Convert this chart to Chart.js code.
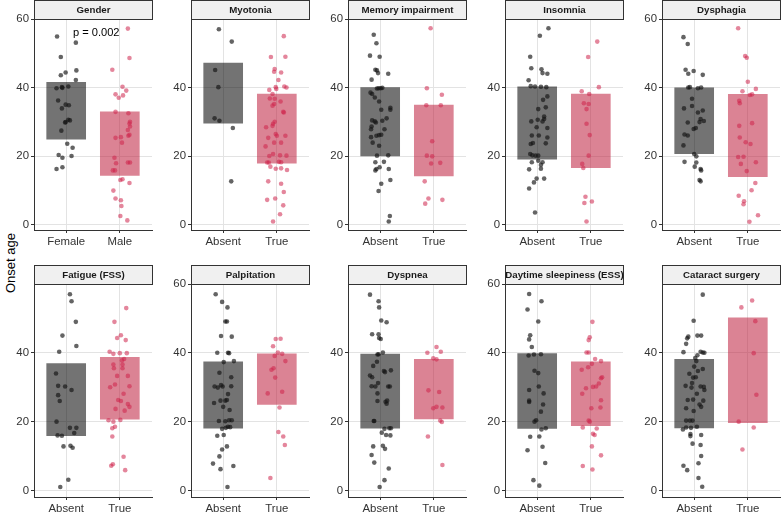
<!DOCTYPE html>
<html><head><meta charset="utf-8">
<script src="https://cdn.jsdelivr.net/npm/chart.js@4.4.0/dist/chart.umd.min.js"></script>
<style>
html,body{margin:0;padding:0;background:#fff;width:784px;height:515px;overflow:hidden;position:relative;font-family:"Liberation Sans",Arial,sans-serif}
canvas{position:absolute}
#ylab{position:absolute;left:10px;top:263px;transform:translate(-50%,-50%) rotate(-90deg);font-size:13px;white-space:nowrap;color:#000;line-height:1}
</style></head><body>
<div id="ylab">Onset age</div>
<script>
// ---------- DATA ----------
const panelTitles = ["Gender","Myotonia","Memory impairment","Insomnia","Dysphagia",
  "Fatigue (FSS)","Palpitation","Dyspnea","Daytime sleepiness (ESS)","Cataract surgery"];
const groupLabels = [["Female","Male"],["Absent","True"],["Absent","True"],["Absent","True"],["Absent","True"],
  ["Absent","True"],["Absent","True"],["Absent","True"],["Absent","True"],["Absent","True"]];
// interquartile boxes [q1, q3] per group
const boxA = [[25.0,41.6],[29.7,47.2],[20.1,40.1],[19.2,40.3],[20.8,40.0],
  [15.9,36.9],[18.1,37.4],[18.1,39.6],[18.0,39.8],[18.2,38.1]];
const boxB = [[14.4,33.0],[18.0,38.2],[14.3,35.0],[16.7,38.2],[14.1,38.1],
  [20.7,38.7],[25.0,39.7],[20.8,38.1],[18.8,37.4],[19.7,50.2]];
// y tick labels per panel
const yTickSets = [[0,20,40,60],[0,20,40],[0,20,40,60],[0,20,40],[0,20,40,60],
  [0,20,40],[0,20,40,60],[0,20,40],[0,20,40,60],[0,20,40]];
const pLabel = "p = 0.002";

// jittered points: [x offset from group centre, onset age]
const genderFemale = [[-0.17,55.0],[-0.10,49.0],[-0.10,43.7],[-0.01,44.5],[0.18,53.2],[0.19,45.1],[0.18,42.3],[-0.18,39.9],[-0.07,40.0],[-0.08,40.2],[0.04,40.4],[-0.15,36.3],[-0.08,34.0],[-0.01,35.1],[0.05,34.9],[0.04,30.7],[-0.01,30.0],[-0.02,29.9],[0.07,30.5],[-0.09,27.5],[0.02,23.7],[0.12,22.5],[-0.14,20.4],[-0.07,19.6],[0.10,20.1],[-0.18,16.3],[-0.07,16.8]];
const genderMale = [[0.15,57.3],[0.18,48.7],[-0.14,45.3],[0.05,40.3],[0.12,39.2],[-0.08,38.1],[-0.02,37.1],[0.06,37.8],[-0.08,33.0],[0.16,32.6],[0.19,30.1],[0.18,29.6],[0.19,28.7],[0.15,27.7],[0.18,26.3],[0.16,26.0],[-0.08,25.4],[0.02,25.6],[0.04,24.0],[-0.10,19.6],[-0.07,18.0],[0.15,18.2],[0.19,18.2],[-0.13,15.9],[-0.09,15.9],[0.01,13.1],[0.05,13.3],[0.18,12.2],[-0.12,10.0],[-0.08,7.7],[0.02,7.2],[0.03,5.5],[0.01,2.6],[0.14,1.3]];
const myotoniaAbsent = [[-0.08,57.1],[0.16,53.5],[-0.15,45.2],[-0.09,40.2],[-0.16,31.1],[-0.07,30.4],[0.18,28.3],[0.15,12.7]];
const myotoniaTrue = [[0.13,55.1],[-0.11,49.0],[0.16,49.1],[-0.04,45.5],[-0.05,44.7],[0.08,44.5],[0.03,42.3],[-0.02,40.2],[-0.01,39.7],[0.14,40.4],[0.18,40.1],[-0.14,39.4],[-0.08,38.2],[-0.13,36.9],[-0.04,36.8],[-0.05,35.3],[-0.08,34.8],[0.07,36.0],[0.12,33.0],[0.13,32.8],[-0.20,28.5],[-0.04,30.1],[-0.07,29.5],[-0.08,28.9],[-0.02,26.5],[0.00,26.0],[0.16,26.0],[-0.16,25.4],[-0.05,24.0],[0.08,24.0],[-0.21,22.9],[-0.14,20.1],[-0.07,20.7],[0.06,20.3],[0.18,20.2],[-0.15,18.2],[-0.18,18.2],[0.04,18.4],[0.08,18.3],[-0.12,17.0],[-0.02,16.4],[0.08,16.5],[0.19,16.0],[-0.16,12.7],[0.08,12.0],[0.13,9.6],[-0.18,7.3],[-0.03,7.7],[0.12,5.7],[0.06,3.1],[-0.07,1.0]];
const memoryAbsent = [[-0.12,55.5],[-0.07,53.0],[-0.19,49.4],[-0.01,49.1],[-0.09,45.3],[-0.06,45.1],[-0.04,44.3],[0.15,44.1],[-0.16,42.4],[-0.06,39.8],[-0.03,39.9],[0.01,39.9],[0.04,40.0],[-0.18,38.6],[-0.15,38.2],[-0.10,37.2],[-0.02,36.0],[0.02,33.6],[0.19,34.2],[0.19,33.6],[0.12,31.1],[-0.15,30.5],[-0.10,30.2],[-0.08,29.9],[0.04,30.4],[0.08,27.9],[-0.16,28.7],[-0.17,27.9],[-0.17,25.6],[-0.07,26.0],[-0.02,26.2],[0.02,26.3],[-0.14,24.0],[-0.02,23.1],[-0.06,20.2],[0.15,20.3],[-0.09,18.3],[0.07,18.4],[-0.01,16.8],[-0.07,16.3],[-0.09,15.9],[0.16,16.3],[0.02,12.0],[0.19,13.1],[-0.03,9.9],[0.18,2.6],[0.16,1.0]];
const memoryTrue = [[-0.06,57.4],[-0.13,39.9],[0.15,38.0],[-0.14,34.9],[0.13,34.9],[-0.03,24.4],[-0.13,20.2],[-0.03,20.0],[-0.05,17.9],[0.12,18.1],[-0.17,12.7],[-0.10,7.7],[-0.16,6.2],[0.16,7.3]];
const insomniaAbsent = [[0.21,57.4],[0.05,55.2],[-0.13,49.1],[-0.11,45.7],[0.08,45.4],[0.10,44.3],[0.19,44.1],[-0.16,42.2],[-0.12,40.5],[-0.04,40.4],[0.07,40.3],[0.17,40.2],[0.19,37.5],[0.11,36.5],[0.16,34.3],[0.02,33.8],[0.13,31.6],[0.13,30.9],[0.01,30.7],[-0.11,30.2],[0.10,30.2],[-0.01,28.5],[0.19,28.3],[-0.10,26.1],[0.03,26.1],[0.19,25.5],[-0.12,23.6],[-0.08,23.9],[0.16,23.8],[-0.13,20.7],[-0.09,20.3],[-0.03,20.2],[0.02,20.2],[0.02,18.7],[0.10,18.3],[-0.10,18.3],[0.07,17.5],[0.07,16.4],[-0.15,16.2],[0.13,13.5],[-0.01,13.5],[-0.06,12.4],[-0.15,10.6],[-0.04,3.6]];
const insomniaTrue = [[0.12,53.5],[-0.05,49.0],[0.15,40.2],[-0.17,39.0],[-0.03,38.2],[-0.13,35.5],[-0.04,35.3],[-0.08,33.8],[-0.08,29.5],[-0.02,26.2],[-0.04,20.2],[-0.16,17.8],[-0.14,16.6],[-0.10,8.2],[-0.12,6.4],[0.02,6.8],[-0.08,1.0]];
const dysphagiaAbsent = [[-0.20,54.8],[-0.12,52.8],[-0.16,45.3],[-0.11,44.1],[-0.01,44.9],[0.16,43.8],[-0.11,40.1],[-0.08,40.2],[0.07,39.9],[0.13,40.1],[-0.04,36.8],[-0.19,34.0],[-0.04,34.7],[0.07,32.8],[0.16,33.4],[-0.12,29.9],[0.12,30.9],[0.10,30.0],[0.18,30.3],[-0.01,28.0],[0.03,28.3],[-0.18,26.4],[-0.12,26.1],[-0.20,23.2],[0.00,20.7],[0.04,20.0],[0.04,18.2],[-0.18,18.4],[0.01,17.0],[0.12,16.3],[0.13,15.9],[0.12,12.7],[0.10,13.1]];
const dysphagiaTrue = [[-0.18,57.4],[-0.05,49.3],[-0.02,48.8],[0.00,41.8],[-0.10,39.0],[0.15,39.7],[0.04,37.9],[0.08,38.1],[-0.16,36.2],[-0.15,35.5],[0.08,29.7],[-0.16,28.9],[-0.15,25.5],[-0.04,24.1],[0.05,23.6],[-0.18,19.8],[-0.08,19.9],[-0.13,17.8],[0.15,18.3],[-0.02,15.7],[0.14,12.2],[0.07,10.1],[-0.17,8.5],[-0.07,6.9],[-0.08,6.0],[0.19,2.8],[0.03,0.9]];
const fatigueAbsent = [[0.07,57.0],[0.10,55.0],[0.18,49.0],[-0.07,45.0],[0.19,42.0],[-0.13,40.3],[-0.19,34.0],[-0.15,30.4],[-0.02,30.2],[0.10,29.2],[-0.15,27.7],[-0.12,26.0],[-0.18,20.0],[0.07,18.2],[0.19,18.2],[0.15,16.7],[-0.16,16.0],[-0.08,15.9],[-0.05,12.8],[0.08,13.0],[0.12,12.4],[0.04,3.1],[-0.11,1.0]];
const fatigueTrue = [[0.12,53.0],[-0.10,49.0],[0.02,45.1],[-0.05,44.3],[0.11,43.7],[-0.19,40.3],[-0.12,39.7],[0.00,39.9],[0.13,39.9],[0.04,37.8],[0.08,38.2],[-0.12,36.6],[0.05,36.6],[-0.11,35.5],[0.05,35.5],[-0.05,33.3],[0.15,33.3],[-0.18,30.0],[-0.09,30.8],[0.18,30.3],[0.07,28.1],[-0.03,26.3],[0.02,26.0],[-0.08,23.7],[0.09,23.2],[0.15,25.1],[0.18,24.3],[-0.21,20.4],[-0.12,20.0],[0.01,20.5],[-0.09,18.5],[-0.14,18.1],[-0.14,15.7],[0.07,9.8],[-0.13,7.6],[-0.16,7.2],[0.10,5.9]];
const palpitationAbsent = [[-0.14,57.0],[-0.02,54.8],[0.08,53.2],[0.04,49.1],[0.07,49.1],[-0.04,44.9],[0.16,44.7],[-0.11,40.0],[0.09,40.0],[0.11,39.9],[0.01,37.3],[0.20,37.6],[-0.07,34.2],[0.15,32.9],[-0.16,30.2],[-0.10,29.9],[-0.04,30.6],[-0.01,30.2],[0.15,30.3],[0.09,28.0],[-0.05,26.1],[0.04,26.1],[0.07,26.3],[-0.17,25.4],[0.00,24.3],[0.12,23.4],[-0.08,20.2],[0.04,20.1],[0.11,20.4],[0.16,20.4],[-0.02,17.9],[0.05,18.2],[0.13,18.4],[0.09,18.5],[-0.11,15.9],[0.01,16.1],[0.07,12.8],[-0.02,11.9],[-0.07,9.9],[-0.19,7.8],[0.19,7.1],[-0.05,6.2],[0.08,1.0]];
const palpitationTrue = [[-0.02,44.0],[0.07,44.1],[-0.07,41.9],[-0.04,39.1],[0.02,40.1],[0.10,39.7],[0.16,37.6],[-0.10,35.1],[-0.06,35.5],[-0.03,32.8],[0.10,28.7],[-0.17,28.2],[0.05,24.1],[0.03,17.0],[0.12,15.7],[0.15,13.2],[-0.12,3.6]];
const dyspneaAbsent = [[-0.19,56.9],[-0.03,55.0],[-0.02,53.2],[0.02,49.4],[0.12,48.9],[-0.15,45.4],[-0.03,45.4],[-0.02,44.3],[0.01,44.0],[-0.03,39.6],[-0.05,39.5],[0.05,40.1],[-0.06,37.4],[-0.13,36.2],[0.07,34.7],[0.09,34.4],[0.20,34.9],[-0.19,33.4],[-0.15,32.9],[-0.04,31.2],[-0.16,30.3],[-0.09,30.2],[0.15,30.2],[0.18,30.2],[-0.05,28.2],[-0.05,26.0],[0.10,25.8],[0.13,26.1],[0.12,25.2],[-0.12,20.2],[-0.11,20.2],[0.08,17.9],[0.17,18.1],[0.20,18.1],[0.03,16.8],[0.11,16.1],[0.19,16.0],[-0.13,12.8],[0.05,13.0],[0.09,12.1],[-0.16,10.3],[-0.11,8.1],[0.16,6.4],[0.08,3.0],[-0.01,1.0]];
const dyspneaTrue = [[0.05,41.7],[-0.12,40.0],[0.13,40.3],[-0.01,38.4],[0.05,38.1],[-0.10,29.1],[0.10,28.6],[-0.01,23.9],[0.05,24.3],[0.16,24.1],[0.12,20.3],[0.15,19.9],[-0.11,15.7],[0.16,7.4]];
const daytimeAbsent = [[-0.15,57.1],[0.08,55.0],[-0.18,52.6],[0.02,49.1],[-0.13,45.1],[-0.15,43.9],[-0.10,41.7],[-0.16,39.2],[-0.06,39.5],[0.07,39.6],[-0.05,34.8],[0.02,34.1],[0.03,30.2],[-0.15,29.2],[0.12,28.2],[-0.15,26.1],[-0.15,25.7],[0.11,25.0],[0.07,22.9],[-0.05,20.0],[-0.02,20.4],[0.16,18.1],[0.08,17.7],[-0.13,15.6],[0.04,15.7],[0.10,12.7],[-0.18,11.7],[0.15,8.0],[-0.07,3.0],[0.04,1.4]];
const daytimeTrue = [[0.03,49.0],[-0.02,44.5],[-0.04,43.7],[-0.08,40.1],[-0.04,40.1],[0.08,38.2],[0.19,37.6],[-0.05,35.8],[-0.17,35.1],[0.02,36.8],[-0.09,29.7],[0.04,30.1],[0.10,30.2],[0.15,31.1],[0.19,32.6],[0.21,32.9],[-0.16,28.1],[0.19,26.2],[0.01,23.9],[0.18,24.1],[-0.04,20.3],[-0.02,20.0],[-0.15,18.3],[0.11,18.0],[0.04,16.5],[0.07,16.1],[0.02,12.8],[0.19,10.2],[-0.15,7.1],[0.03,6.1]];
const cataractAbsent = [[0.16,56.9],[-0.01,49.3],[-0.11,44.7],[-0.13,44.2],[-0.15,42.6],[0.06,45.0],[0.13,45.0],[-0.20,40.2],[0.12,40.3],[0.16,40.1],[0.19,40.0],[0.06,39.3],[0.02,38.5],[0.04,37.6],[0.00,36.0],[-0.09,33.9],[0.07,34.7],[0.16,35.3],[-0.02,32.8],[0.03,32.9],[-0.04,31.2],[-0.16,30.4],[-0.05,29.9],[0.12,30.2],[0.18,30.1],[0.19,29.2],[0.05,28.1],[-0.12,26.3],[-0.02,26.4],[0.17,26.1],[0.10,25.0],[0.13,24.3],[-0.15,23.9],[-0.01,23.1],[-0.15,20.3],[-0.08,20.3],[-0.03,20.3],[0.05,18.5],[-0.15,18.3],[-0.06,18.2],[-0.21,17.7],[-0.07,16.4],[-0.07,15.8],[0.13,16.1],[-0.03,13.6],[0.12,13.2],[0.13,10.0],[0.08,7.9],[-0.20,7.2],[-0.13,5.9],[0.08,3.6],[0.15,1.1]];
const cataractTrue = [[0.08,55.2],[-0.12,53.2],[0.14,49.2],[0.11,39.9],[0.16,27.8],[-0.17,20.0],[0.11,18.3],[-0.10,11.9]];

const pointsA = [genderFemale,myotoniaAbsent,memoryAbsent,insomniaAbsent,dysphagiaAbsent,fatigueAbsent,palpitationAbsent,dyspneaAbsent,daytimeAbsent,cataractAbsent];
const pointsB = [genderMale,myotoniaTrue,memoryTrue,insomniaTrue,dysphagiaTrue,fatigueTrue,palpitationTrue,dyspneaTrue,daytimeTrue,cataractTrue];

// ---------- STYLE ----------
const FONT = '"Liberation Sans", Arial, Helvetica, sans-serif';
const boxGrey = 'rgba(0,0,0,0.55)';
const boxPink = 'rgba(190,30,60,0.55)';
const ptGrey = 'rgba(20,20,20,0.66)';
const ptPink = 'rgba(205,35,75,0.55)';
const gridC = '#e3e3e3';
const STRIP_H = 19;

const stripPlugin = {
  id: 'strip',
  afterDraw(chart, args, opts) {
    const {ctx, chartArea: a} = chart;
    const top = a.top - STRIP_H;
    ctx.save();
    ctx.fillStyle = '#f0f0f0';
    ctx.fillRect(a.left, top, a.right - a.left + 1, STRIP_H);
    ctx.strokeStyle = '#333';
    ctx.lineWidth = 1;
    ctx.strokeRect(a.left + 0.5, top + 0.5, a.right - a.left, STRIP_H);
    ctx.fillStyle = '#1a1a1a';
    ctx.font = 'bold 9.7px ' + FONT;
    ctx.textAlign = 'center';
    ctx.textBaseline = 'middle';
    ctx.fillText(opts.title, (a.left + a.right) / 2 + 0.5, top + STRIP_H / 2 + 0.5);
    if (opts.p) {
      const xs = chart.scales.x, ys = chart.scales.y;
      ctx.fillStyle = '#000';
      ctx.font = '11.1px ' + FONT;
      ctx.fillText(opts.p, xs.getPixelForValue(1.56), ys.getPixelForValue(56));
    }
    ctx.restore();
  }
};

const PANEL_LEFT = [0, 157, 314, 471, 628];
for (let i = 0; i < 10; i++) {
  const row = i < 5 ? 0 : 1, col = i % 5;
  const cv = document.createElement('canvas');
  cv.width = 156; cv.height = 255;
  cv.style.left = PANEL_LEFT[col] + 'px';
  cv.style.top = (row ? 260 : 0) + 'px';
  cv.style.width = '156px'; cv.style.height = '255px';
  document.body.appendChild(cv);
  const labels = groupLabels[i];
  const ticksY = yTickSets[i];
  new Chart(cv, {
    type: 'bar',
    data: {
      datasets: [
        {type: 'scatter', data: pointsA[i].map(p => ({x: 1 + p[0], y: p[1]})), backgroundColor: ptGrey, pointRadius: 2.3, borderWidth: 0, order: 0},
        {type: 'scatter', data: pointsB[i].map(p => ({x: 2 + p[0], y: p[1]})), backgroundColor: ptPink, pointRadius: 2.3, borderWidth: 0, order: 0},
        {type: 'bar', data: [{x: 1, y: boxA[i]}], backgroundColor: boxGrey, barThickness: 39, grouped: false, borderWidth: 0, order: 5},
        {type: 'bar', data: [{x: 2, y: boxB[i]}], backgroundColor: boxPink, barThickness: 39, grouped: false, borderWidth: 0, order: 5}
      ]
    },
    options: {
      responsive: false, animation: false, devicePixelRatio: 1,
      layout: {padding: {top: row ? 24 : 19, right: 1, left: 0, bottom: 0}},
      plugins: {legend: {display: false}, tooltip: {enabled: false}, title: {display: false},
        strip: {title: panelTitles[i], p: i === 0 ? pLabel : null}},
      scales: {
        x: {
          type: 'linear', min: 0.4, max: 2.6, offset: false,
          afterBuildTicks: s => { s.ticks = [{value: 1}, {value: 2}]; },
          ticks: {callback: v => labels[Math.round(v) - 1], font: {family: FONT, size: 11.4}, color: '#333', padding: 2, autoSkip: false, maxRotation: 0},
          grid: {offset: false, color: gridC, lineWidth: 1, tickLength: 3, tickColor: '#333', drawTicks: true},
          border: {display: true, color: '#333', width: 1},
          afterFit: s => { s.height = row ? 18 : 25; }
        },
        y: {
          type: 'linear', min: row ? -1.9 : -1.5, max: row ? 60.0 : 60.1,
          afterBuildTicks: s => { s.ticks = ticksY.map(v => ({value: v})); },
          ticks: {font: {family: FONT, size: 11.4}, color: '#333', padding: 2},
          grid: {offset: false, color: gridC, lineWidth: 1, tickLength: 3, tickColor: '#333'},
          border: {display: true, color: '#333', width: 1},
          afterFit: s => { s.width = 34; }
        }
      }
    },
    plugins: [stripPlugin]
  });
}
</script>
</body></html>
